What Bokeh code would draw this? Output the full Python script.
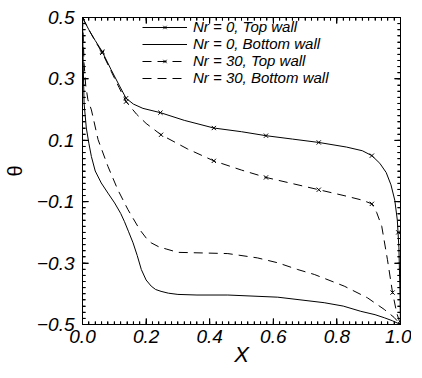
from bokeh.plotting import figure
from bokeh.models import Range1d, FixedTicker, LinearAxis, Legend, LegendItem
from bokeh.embed import file_html
from bokeh.resources import INLINE

# ---- data ----
x_nr0_top = [0, 0.02, 0.04, 0.062, 0.09, 0.115, 0.137, 0.16, 0.19, 0.245, 0.32, 0.413,
             0.5, 0.577, 0.66, 0.743, 0.83, 0.88, 0.91, 0.935, 0.955, 0.97, 0.982, 0.99,
             0.995, 0.998, 1.0]
y_nr0_top = [0.5, 0.46, 0.425, 0.389, 0.33, 0.28, 0.237, 0.218, 0.204, 0.19, 0.165, 0.140,
             0.128, 0.115, 0.104, 0.093, 0.078, 0.066, 0.05, 0.025, -0.005, -0.045, -0.095,
             -0.16, -0.25, -0.38, -0.5]
mx_nr0_top = [0, 0.062, 0.137, 0.245, 0.413, 0.577, 0.743, 0.91, 0.993, 1.0]
my_nr0_top = [0.5, 0.389, 0.237, 0.19, 0.140, 0.115, 0.093, 0.05, -0.20, -0.5]

x_nr0_bot = [0, 0.002, 0.005, 0.012, 0.02, 0.028, 0.04, 0.059, 0.08, 0.101, 0.12, 0.132,
             0.145, 0.159, 0.172, 0.185, 0.2, 0.216, 0.23, 0.247, 0.27, 0.3, 0.36, 0.457,
             0.614, 0.76, 0.82, 0.875, 0.92, 0.949, 0.975, 1.0]
y_nr0_bot = [0.5, 0.36, 0.22, 0.14, 0.09, 0.047, 0.0, -0.039, -0.072, -0.104, -0.138, -0.165,
             -0.198, -0.234, -0.275, -0.321, -0.355, -0.375, -0.386, -0.392, -0.398, -0.402,
             -0.404, -0.404, -0.411, -0.429, -0.440, -0.457, -0.468, -0.478, -0.488, -0.5]

x_nr30_top = [0, 0.02, 0.04, 0.062, 0.09, 0.115, 0.137, 0.17, 0.2, 0.247, 0.33, 0.413, 0.5,
              0.577, 0.66, 0.743, 0.83, 0.88, 0.91, 0.925, 0.941, 0.959, 0.975, 0.988, 1.0]
y_nr30_top = [0.5, 0.46, 0.423, 0.385, 0.325, 0.272, 0.226, 0.185, 0.155, 0.118, 0.072, 0.033,
              0.003, -0.021, -0.041, -0.061, -0.082, -0.095, -0.107, -0.135, -0.18, -0.289,
              -0.396, -0.462, -0.5]
mx_nr30_top = [0, 0.062, 0.137, 0.247, 0.413, 0.577, 0.743, 0.91, 0.975, 1.0]
my_nr30_top = [0.5, 0.385, 0.226, 0.118, 0.033, -0.021, -0.061, -0.107, -0.396, -0.5]

x_nr30_bot = [0, 0.005, 0.01, 0.017, 0.028, 0.049, 0.08, 0.111, 0.143, 0.18, 0.2, 0.216, 0.24,
              0.263, 0.3, 0.38, 0.457, 0.55, 0.614, 0.677, 0.729, 0.823, 0.896, 0.949, 0.98, 1.0]
y_nr30_bot = [0.5, 0.35, 0.28, 0.232, 0.199, 0.102, 0.015, -0.061, -0.126, -0.191, -0.218,
              -0.234, -0.247, -0.254, -0.265, -0.267, -0.269, -0.283, -0.299, -0.321, -0.337,
              -0.375, -0.413, -0.451, -0.477, -0.5]

x_ticks = [0.0, 0.2, 0.4, 0.6, 0.8, 1.0]
x_tick_labels = ["0.0", "0.2", "0.4", "0.6", "0.8", "1.0"]
y_ticks = [-0.5, -0.3, -0.1, 0.1, 0.3, 0.5]
y_tick_labels = ["\u22120.5", "\u22120.3", "\u22120.1", "0.1", "0.3", "0.5"]
x_minor = [round(i * 0.02, 4) for i in range(51)]
y_minor = [round(-0.5 + i * 0.02, 4) for i in range(51)]
labels = ["Nr = 0, Top wall", "Nr = 0, Bottom wall", "Nr = 30, Top wall", "Nr = 30, Bottom wall"]

FONT = "Liberation Sans"
X0, X1, Y0, Y1 = 0.0, 1.0, -0.5, 0.5
FW, FH = 318, 307

p = figure(frame_width=FW, frame_height=FH,
           x_range=Range1d(X0, X1), y_range=Range1d(Y0, Y1),
           output_backend="svg", toolbar_location=None,
           min_border_left=77, min_border_top=17, min_border_right=11, min_border_bottom=30)
p.grid.visible = False
p.outline_line_color = "black"
p.outline_line_width = 1

def style_axis(ax, ticker, show_labels):
    ax.ticker = ticker
    ax.axis_line_color = "black"
    ax.major_tick_line_color = "black"
    ax.minor_tick_line_color = "black"
    ax.major_tick_in = 6
    ax.major_tick_out = 0
    ax.minor_tick_in = 3
    ax.minor_tick_out = 0
    ax.major_label_text_font = FONT
    ax.major_label_text_font_style = "italic"
    ax.major_label_text_color = "black"
    if show_labels:
        ax.major_label_text_font_size = "19px"
    else:
        ax.major_label_text_font_size = "0px"
        ax.major_label_standoff = 0

xa = p.xaxis[0]
ya = p.yaxis[0]
style_axis(xa, FixedTicker(ticks=x_ticks, minor_ticks=x_minor), True)
style_axis(ya, FixedTicker(ticks=y_ticks, minor_ticks=y_minor), True)
xa.major_label_standoff = 5
ya.major_label_standoff = 8
xa.major_label_overrides = dict(zip(x_ticks, x_tick_labels))
ya.major_label_overrides = dict(zip(y_ticks, y_tick_labels))
xa.axis_label = "X"
xa.axis_label_text_font = FONT
xa.axis_label_text_font_style = "italic"
xa.axis_label_text_font_size = "22px"
xa.axis_label_text_color = "black"
xa.axis_label_standoff = -4
ya.axis_label = "\u03b8"
ya.axis_label_text_font = FONT
ya.axis_label_text_font_style = "normal"
ya.axis_label_text_font_size = "20px"
ya.axis_label_text_color = "black"
ya.axis_label_standoff = 8

top_ax = LinearAxis()
right_ax = LinearAxis()
style_axis(top_ax, FixedTicker(ticks=x_ticks, minor_ticks=x_minor), False)
style_axis(right_ax, FixedTicker(ticks=y_ticks, minor_ticks=y_minor), False)
p.add_layout(top_ax, "above")
p.add_layout(right_ax, "right")

# inward tick marks on all four sides, placed from the tick arrays
def tick_marks(xt, yt, px_len):
    ly = px_len * (Y1 - Y0) / FH
    lx = px_len * (X1 - X0) / FW
    p.segment(x0=xt, y0=[Y0] * len(xt), x1=xt, y1=[Y0 + ly] * len(xt), line_color="black", line_width=1)
    p.segment(x0=xt, y0=[Y1] * len(xt), x1=xt, y1=[Y1 - ly] * len(xt), line_color="black", line_width=1)
    p.segment(x0=[X0] * len(yt), y0=yt, x1=[X0 + lx] * len(yt), y1=yt, line_color="black", line_width=1)
    p.segment(x0=[X1] * len(yt), y0=yt, x1=[X1 - lx] * len(yt), y1=yt, line_color="black", line_width=1)

tick_marks(x_minor, y_minor, 3)
tick_marks(x_ticks, y_ticks, 6)

r1 = p.line(x_nr0_top, y_nr0_top, line_color="black", line_width=1)
m1 = p.scatter(mx_nr0_top, my_nr0_top, marker="x", size=6, line_color="black", line_width=1)
r2 = p.line(x_nr0_bot, y_nr0_bot, line_color="black", line_width=1)
r3 = p.line(x_nr30_top, y_nr30_top, line_color="black", line_width=1, line_dash="9 6")
m3 = p.scatter(mx_nr30_top, my_nr30_top, marker="x", size=6, line_color="black", line_width=1)
r4 = p.line(x_nr30_bot, y_nr30_bot, line_color="black", line_width=1, line_dash="9 6")

legend = Legend(items=[LegendItem(label=labels[0], renderers=[r1, m1]),
                       LegendItem(label=labels[1], renderers=[r2]),
                       LegendItem(label=labels[2], renderers=[r3, m3]),
                       LegendItem(label=labels[3], renderers=[r4])],
                location=(60, 238),
                label_text_font=FONT, label_text_font_style="italic",
                label_text_font_size="15px", label_text_color="black",
                glyph_width=45, glyph_height=12, label_height=12, label_standoff=6,
                padding=0, margin=0, spacing=-5,
                border_line_alpha=0, background_fill_alpha=0)
p.add_layout(legend)

open("out.html", "w").write(file_html(p, INLINE))
